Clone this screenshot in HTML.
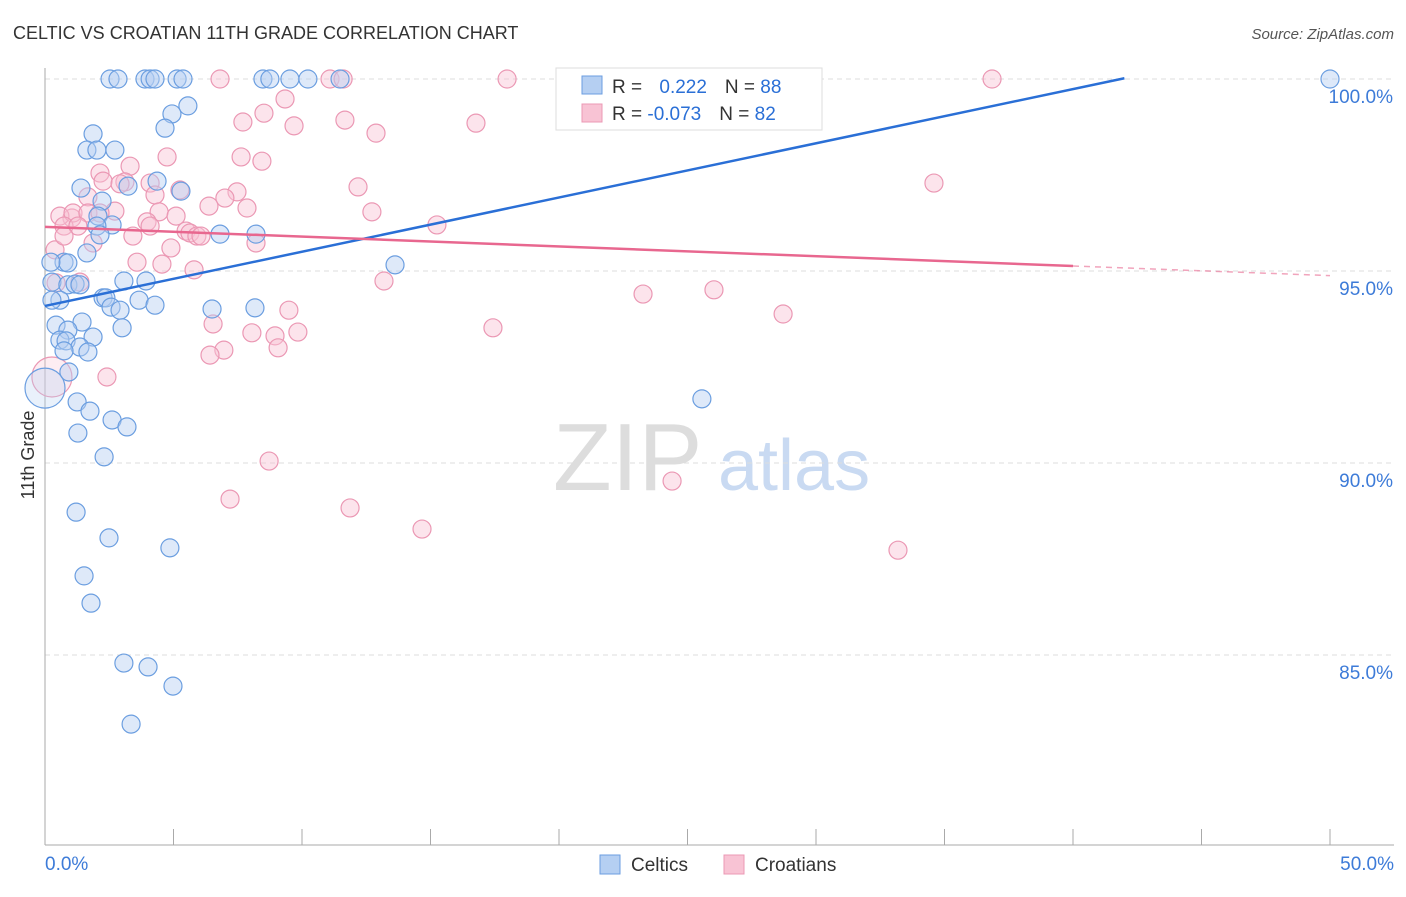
<!DOCTYPE html>
<html><head><meta charset="utf-8"><style>
body{margin:0;background:#fff;font-family:"Liberation Sans",sans-serif;}
svg text{font-family:"Liberation Sans",sans-serif;}
</style></head><body>
<svg id="chart" width="1406" height="892">
<text x="13" y="39" font-size="18" fill="#333">CELTIC VS CROATIAN 11TH GRADE CORRELATION CHART</text>
<text x="1394" y="39" font-size="15" fill="#555" text-anchor="end" font-style="italic">Source: ZipAtlas.com</text>
<text transform="translate(34,455) rotate(-90)" font-size="18" fill="#333" text-anchor="middle">11th Grade</text>
<g><text x="553" y="490" font-size="96" fill="#ddd" font-family="Liberation Serif">ZIP</text><text x="718" y="490" font-size="72" fill="#c9daf2">atlas</text></g>
<g id="grid"></g><g id="axes"></g><g id="pts"></g><g id="lines"></g>
<g>
<rect x="556" y="68" width="266" height="62" fill="#fff" stroke="#ddd"/>
<rect x="582" y="76" width="20" height="18" fill="#b5cff2" stroke="#6b9ee0"/>
<rect x="582" y="104" width="20" height="18" fill="#f8c3d4" stroke="#eb98b4"/>
<text x="612" y="93" font-size="19" fill="#333">R = <tspan fill="#2a6fd6" dx="12">0.222</tspan><tspan dx="18" fill="#333">N = </tspan><tspan fill="#2a6fd6">88</tspan></text>
<text x="612" y="120" font-size="19" fill="#333">R = <tspan fill="#2a6fd6">-0.073</tspan><tspan dx="18" fill="#333">N = </tspan><tspan fill="#2a6fd6">82</tspan></text>
</g>
<g>
<rect x="600" y="855" width="20" height="19" fill="#b5cff2" stroke="#6b9ee0"/>
<text x="631" y="871" font-size="19" fill="#333">Celtics</text>
<rect x="724" y="855" width="20" height="19" fill="#f8c3d4" stroke="#eb98b4"/>
<text x="755" y="871" font-size="19" fill="#333">Croatians</text>
</g>
</svg>
<script>
const yTicks=[100,95,90,85];
const yTickLabels=["100.0%","95.0%","90.0%","85.0%"];
const xTickLabels=["0.0%","50.0%"];
const celticsX=[2.53,2.84,3.89,4.09,4.28,5.14,5.37,8.48,8.75,9.53,10.23,11.48,50.0,5.56,4.94,4.67,1.87,1.63,2.02,2.72,4.36,1.40,3.23,5.29,2.22,2.06,2.61,2.02,2.14,6.81,8.21,1.63,0.74,0.89,0.23,0.27,0.89,1.17,0.58,0.27,2.26,2.37,3.07,3.93,13.62,2.57,2.92,3.66,4.28,6.50,8.17,0.43,1.44,0.89,0.58,0.82,1.87,1.36,0.74,1.67,3.00,0.93,1.25,1.75,2.61,3.19,25.56,1.28,2.30,1.21,2.49,4.86,1.52,1.79,3.07,4.01,4.98,3.35,0.0,1.36];
const celticsY=[100,100,100,100,100,100,100,100,100,100,100,100,100,99.30,99.09,98.72,98.57,98.15,98.15,98.15,97.34,97.16,97.21,97.08,96.82,96.43,96.20,96.17,95.94,95.96,95.96,95.47,95.23,95.21,95.23,94.71,94.64,94.66,94.24,94.24,94.30,94.30,94.74,94.74,95.16,94.06,93.98,94.24,94.11,94.01,94.04,93.59,93.67,93.46,93.20,93.18,93.28,93.02,92.92,92.89,93.52,92.37,91.59,91.35,91.12,90.94,91.67,90.78,90.16,88.72,88.05,87.79,87.06,86.35,84.79,84.69,84.19,83.20,91.95,94.64];
const croatiansX=[6.81,11.09,11.60,17.98,36.85,9.34,8.52,7.70,9.69,11.67,12.88,16.77,4.75,7.63,8.44,3.31,2.14,2.26,3.11,4.09,2.92,12.18,7.47,7.00,5.25,4.28,6.38,7.86,2.72,1.67,1.05,0.58,1.09,1.67,2.14,4.44,5.10,12.72,3.97,4.09,0.74,1.28,15.25,5.49,5.64,5.91,6.07,3.42,1.87,8.21,4.90,0.39,0.74,4.55,3.58,5.80,1.36,13.19,23.27,26.03,34.59,9.49,6.54,9.84,17.43,8.05,8.95,28.72,6.96,6.42,9.07,2.41,0.27,8.72,7.20,11.87,14.67,24.40,33.19,0.43];
const croatiansY=[100,100,100,100,100,99.48,99.11,98.88,98.78,98.93,98.59,98.85,97.97,97.97,97.86,97.73,97.55,97.34,97.32,97.29,97.27,97.19,97.06,96.90,97.11,96.98,96.69,96.64,96.56,96.93,96.38,96.43,96.51,96.51,96.51,96.54,96.43,96.54,96.28,96.17,96.17,96.17,96.20,96.04,95.99,95.91,95.91,95.91,95.73,95.73,95.60,95.55,95.91,95.18,95.23,95.03,94.71,94.74,94.40,94.51,97.29,93.98,93.62,93.41,93.52,93.39,93.31,93.88,92.94,92.81,93.00,92.24,92.24,90.05,89.06,88.83,88.28,89.53,87.73,94.69];
const celticsTrend=[0,94.09,42,100.02];
const croatiansTrend=[0,96.15,40,95.13,50,94.88];
const NS="http://www.w3.org/2000/svg";
const X=v=>45+v/50*1285, Y=v=>79+(100-v)*38.4;
function mk(tag,attrs,parent){const e=document.createElementNS(NS,tag);for(const k in attrs)e.setAttribute(k,attrs[k]);document.getElementById(parent).appendChild(e);return e;}
yTicks.forEach((t,i)=>{
 const g=mk('line',{x1:45,x2:1394,y1:Y(t),y2:Y(t),stroke:'#ddd','stroke-dasharray':'5,4'},'grid');
 
 
 const l=mk('text',{x:1393,y:Y(t)+24,'font-size':19,fill:'#3d7bd8','text-anchor':'end'},'grid');
 l.textContent=yTickLabels[i];
 
 
});
const ax=mk('line',{x1:45,x2:45,y1:68,y2:845,stroke:'#aaa'},'axes');


const bx=mk('line',{x1:45,x2:1394,y1:845,y2:845,stroke:'#aaa'},'axes');


for(let i=0;i<=10;i++){
 const t=mk('line',{x1:X(i*5),x2:X(i*5),y1:829,y2:845,stroke:'#aaa'},'axes');
 
 
}
[[0,'start',45],[50,'end',1394]].forEach((d,i)=>{
 const t=mk('text',{x:d[2],y:870,'font-size':19,fill:'#3d7bd8','text-anchor':d[1]},'axes');
 t.textContent=xTickLabels[i];
 
 
});
function pts(xs,ys,fill,stroke,name){
 xs.forEach((x,i)=>{
  const big=(x<0.3&&(ys[i]>91.9&&ys[i]<92.3));
  const c=mk('circle',{cx:X(x),cy:Y(ys[i]),r:big?20:9,fill:fill,'fill-opacity':big?0.3:0.45,stroke:stroke,'stroke-width':1.2},'pts');
  
  
 });
}
pts(croatiansX,croatiansY,'#f8c3d4','#eb98b4','croatians-point');
pts(celticsX,celticsY,'#b5cff2','#6b9ee0','celtics-point');
const bl=mk('line',{x1:X(celticsTrend[0]),y1:Y(celticsTrend[1]),x2:X(celticsTrend[2]),y2:Y(celticsTrend[3]),stroke:'#2a6fd6','stroke-width':2.5},'lines');


const pl=mk('line',{x1:X(croatiansTrend[0]),y1:Y(croatiansTrend[1]),x2:X(croatiansTrend[2]),y2:Y(croatiansTrend[3]),stroke:'#e8678f','stroke-width':2.5},'lines');


const pd=mk('line',{x1:X(croatiansTrend[2]),y1:Y(croatiansTrend[3]),x2:X(croatiansTrend[4]),y2:Y(croatiansTrend[5]),stroke:'#e8678f','stroke-width':1.5,'stroke-dasharray':'6,5','stroke-opacity':0.6},'lines');


</script>
</body></html>
